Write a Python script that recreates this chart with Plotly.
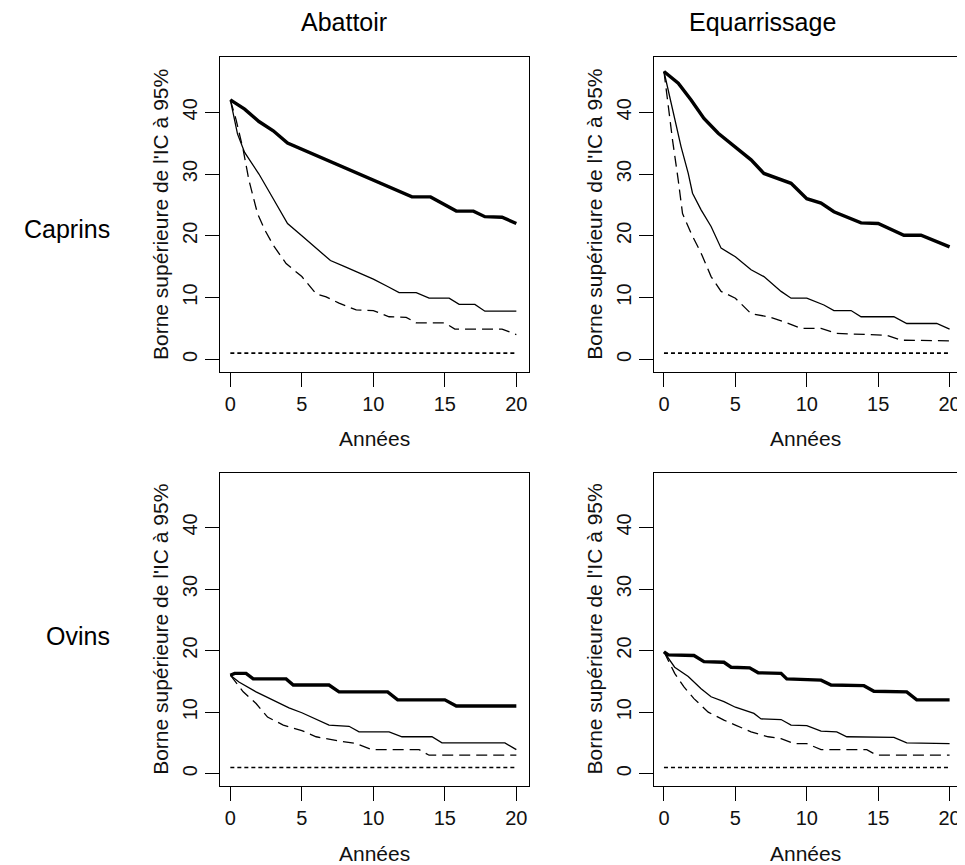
import plotly.graph_objects as go

# The page body has an 8px default margin: lay out in reference pixels and shift.
OFF = 8
W, H = 965 - OFF, 865 - OFF

# ---------------- data ----------------
# Caprins / Abattoir
ca_thick_x = [0, 1, 2, 3, 4, 5, 6, 7, 8, 9, 10, 11, 12, 12.7, 14, 15, 15.8, 17, 17.8, 19, 20]
ca_thick_y = [42, 40.5, 38.5, 37, 35, 34, 33, 32, 31, 30, 29, 28, 27, 26.3, 26.3, 25, 24, 24, 23.1, 23, 22]
ca_thin_x = [0, 0.5, 1, 2, 3, 4, 5, 6, 7, 8, 9, 10, 11, 11.8, 13, 13.9, 15.3, 16, 17.1, 17.8, 20]
ca_thin_y = [42, 36.5, 33.5, 30, 26, 22, 20, 18, 16, 15, 14, 13, 11.8, 10.8, 10.8, 9.9, 9.9, 8.9, 8.9, 7.8, 7.8]
ca_dash_x = [0, 0.4, 0.9, 1.3, 1.9, 2.4, 3, 3.9, 5, 6, 6.7, 7.6, 8.8, 10, 11.1, 12.3, 13, 15, 15.7, 19, 20]
ca_dash_y = [42, 38.8, 33.9, 29, 23.6, 21, 18.5, 15.5, 13.4, 10.6, 10.1, 9.1, 8, 7.9, 6.9, 6.8, 5.9, 5.9, 4.9, 4.9, 4]

# Caprins / Equarrissage
ce_thick_x = [0, 1, 1.9, 2.8, 3.8, 5, 6.1, 7, 7.95, 8.9, 10, 11, 11.9, 13.1, 13.8, 15, 16.1, 16.8, 18, 18.9, 20]
ce_thick_y = [46.6, 44.7, 42, 39, 36.6, 34.4, 32.3, 30.1, 29.3, 28.5, 26, 25.3, 23.9, 22.8, 22.1, 22, 20.9, 20.1, 20.1, 19.3, 18.2]
ce_thin_x = [0, 0.3, 0.75, 1.2, 1.7, 2, 2.6, 3.3, 4, 5, 6.1, 7, 8.2, 8.9, 10, 11.2, 11.9, 13.1, 13.8, 16.1, 17, 19.1, 20]
ce_thin_y = [46.6, 43.6, 39.3, 34.4, 30.1, 26.9, 24.2, 21.5, 18, 16.6, 14.5, 13.4, 11, 9.9, 9.9, 8.8, 7.9, 7.9, 6.9, 6.9, 5.8, 5.8, 4.9]
ce_dash_x = [0, 0.3, 0.6, 1, 1.3, 1.9, 2.6, 3.3, 4, 5, 6.1, 7.3, 8.4, 9.6, 11, 12.1, 15.6, 16.6, 20]
ce_dash_y = [46.6, 40.9, 35.5, 29, 23.6, 20.4, 17.2, 13.4, 11, 9.9, 7.4, 6.9, 6.1, 5, 5, 4.2, 3.9, 3.1, 3]

# Ovins / Abattoir
oa_thick_x = [0, 0.3, 1.1, 1.6, 3.9, 4.4, 6.9, 7.6, 11, 11.7, 15, 15.8, 20]
oa_thick_y = [16, 16.3, 16.3, 15.4, 15.4, 14.4, 14.4, 13.3, 13.3, 12, 12, 11, 11]
oa_thin_x = [0, 0.6, 1.8, 3, 4.1, 5, 6, 6.9, 8.3, 9, 11.1, 12, 14.1, 14.8, 19.2, 20]
oa_thin_y = [16, 14.9, 13.3, 11.9, 10.7, 9.9, 8.8, 7.9, 7.7, 6.8, 6.8, 6, 6, 5, 5, 3.9]
oa_dash_x = [0, 0.9, 1.8, 2.6, 3.7, 5, 6, 7.6, 8.8, 9.9, 13.2, 13.9, 20]
oa_dash_y = [16, 13.3, 11.4, 9.2, 7.9, 7, 6, 5.3, 4.9, 3.9, 3.9, 3, 3]

# Ovins / Equarrissage
oe_thick_x = [0, 0.3, 2.1, 2.8, 4.2, 4.7, 6, 6.6, 8.2, 8.6, 11, 11.7, 14, 14.7, 17, 17.7, 20]
oe_thick_y = [19.8, 19.3, 19.2, 18.2, 18.1, 17.3, 17.2, 16.4, 16.3, 15.4, 15.2, 14.4, 14.3, 13.4, 13.3, 12, 12]
oe_thin_x = [0, 0.75, 1.7, 2.6, 3.3, 4.2, 5, 6.3, 6.8, 8.2, 8.9, 10, 11, 12.1, 12.8, 16.1, 17, 20]
oe_thin_y = [19.8, 17.3, 15.8, 13.8, 12.5, 11.7, 10.8, 9.8, 8.9, 8.8, 7.9, 7.8, 6.9, 6.8, 6, 5.9, 5, 4.9]
oe_dash_x = [0, 0.75, 1.4, 2.1, 3.1, 4.2, 5, 6.1, 7.3, 8.2, 9.1, 10, 11, 14.2, 14.9, 20]
oe_dash_y = [19.8, 16.3, 14.1, 12.2, 10, 8.7, 7.9, 6.8, 6, 5.7, 4.9, 4.9, 3.9, 3.9, 3, 3]

# reference line (dotted)
ref_x = [0, 20]
ref_y = [1, 1]

x_ticks = [0, 5, 10, 15, 20]
y_ticks = [0, 10, 20, 30, 40]
col_labels = ["Abattoir", "Equarrissage"]
row_labels = ["Caprins", "Ovins"]
x_title = "Années"
y_title = "Borne supérieure de l'IC à 95%"

FONT = "Liberation Sans, Arial, Helvetica, sans-serif"


def px(x):
    return (x - OFF) / W


def py(y):
    return 1 - (y - OFF) / H


panels = [
    # (axis suffix, px left, px right, px top, px bottom, xrange, series)
    ("", 221, 531, 57.3, 371.7, [-0.70, 20.91],
     (ca_thick_x, ca_thick_y, ca_thin_x, ca_thin_y, ca_dash_x, ca_dash_y)),
    ("2", 656, 961, 57.3, 371.7, [-0.70, 20.59],
     (ce_thick_x, ce_thick_y, ce_thin_x, ce_thin_y, ce_dash_x, ce_dash_y)),
    ("3", 221, 531, 472.7, 786, [-0.70, 20.91],
     (oa_thick_x, oa_thick_y, oa_thin_x, oa_thin_y, oa_dash_x, oa_dash_y)),
    ("4", 656, 961, 472.7, 786, [-0.70, 20.59],
     (oe_thick_x, oe_thick_y, oe_thin_x, oe_thin_y, oe_dash_x, oe_dash_y)),
]
YRANGE = [-2.0, 48.9]

fig = go.Figure()
layout = dict(
    width=W, height=H, margin=dict(l=0, r=0, t=0, b=0),
    paper_bgcolor="white", plot_bgcolor="white",
    showlegend=False, font=dict(family=FONT, color="black"),
    annotations=[],
)

for suf, xl, xr, yt, yb, xrng, s in panels:
    xa = "x" + suf
    ya = "y" + suf
    tx, ty, nx, ny, dx, dy = s
    fig.add_trace(go.Scatter(x=ref_x, y=ref_y, xaxis=xa, yaxis=ya, mode="lines",
                             line=dict(color="black", width=1.6, dash="4px,3px"),
                             hoverinfo="skip"))
    fig.add_trace(go.Scatter(x=dx, y=dy, xaxis=xa, yaxis=ya, mode="lines",
                             line=dict(color="black", width=1.3, dash="11px,6px"),
                             hoverinfo="skip"))
    fig.add_trace(go.Scatter(x=nx, y=ny, xaxis=xa, yaxis=ya, mode="lines",
                             line=dict(color="black", width=1.3), hoverinfo="skip"))
    fig.add_trace(go.Scatter(x=tx, y=ty, xaxis=xa, yaxis=ya, mode="lines",
                             line=dict(color="black", width=3.4), hoverinfo="skip"))

    layout["xaxis" + suf] = dict(
        domain=[px(xl), px(xr)], range=xrng, anchor=ya,
        tickvals=x_ticks, ticktext=[str(v) for v in x_ticks],
        ticks="outside", ticklen=14, tickwidth=1.3, tickcolor="black",
        showline=True, linecolor="black", linewidth=1.3, mirror=True,
        showgrid=False, zeroline=False,
        tickfont=dict(size=20, family=FONT, color="#111"),
    )
    layout["yaxis" + suf] = dict(
        domain=[py(yb), py(yt)], range=YRANGE, anchor=xa,
        tickvals=y_ticks, ticktext=[str(v) for v in y_ticks],
        ticks="outside", ticklen=14, tickwidth=1.3, tickcolor="black",
        tickangle=-90,
        showline=True, linecolor="black", linewidth=1.3, mirror=True,
        showgrid=False, zeroline=False,
        tickfont=dict(size=20, family=FONT, color="#111"),
    )
    # axis titles
    layout["annotations"].append(dict(
        text=x_title, xref="paper", yref="paper",
        x=px((xl + xr) / 2), y=py(yb + 67),
        xanchor="center", yanchor="middle", showarrow=False,
        font=dict(size=21, family=FONT, color="#111")))
    layout["annotations"].append(dict(
        text=y_title, xref="paper", yref="paper",
        x=px(xl - 60), y=py((yt + yb) / 2),
        xanchor="center", yanchor="middle", showarrow=False, textangle=-90,
        font=dict(size=21, family=FONT, color="#111")))

# column and row labels
for lab, cx in zip(col_labels, [345, 765]):
    layout["annotations"].append(dict(
        text=lab, xref="paper", yref="paper", x=px(cx), y=py(22),
        xanchor="center", yanchor="middle", showarrow=False,
        font=dict(size=25, family=FONT, color="black")))
for lab, cy in zip(row_labels, [229, 636]):
    layout["annotations"].append(dict(
        text=lab, xref="paper", yref="paper", x=px(112), y=py(cy),
        xanchor="right", yanchor="middle", showarrow=False,
        font=dict(size=25, family=FONT, color="black")))

fig.update_layout(**layout)
fig.write_html("out.html")
